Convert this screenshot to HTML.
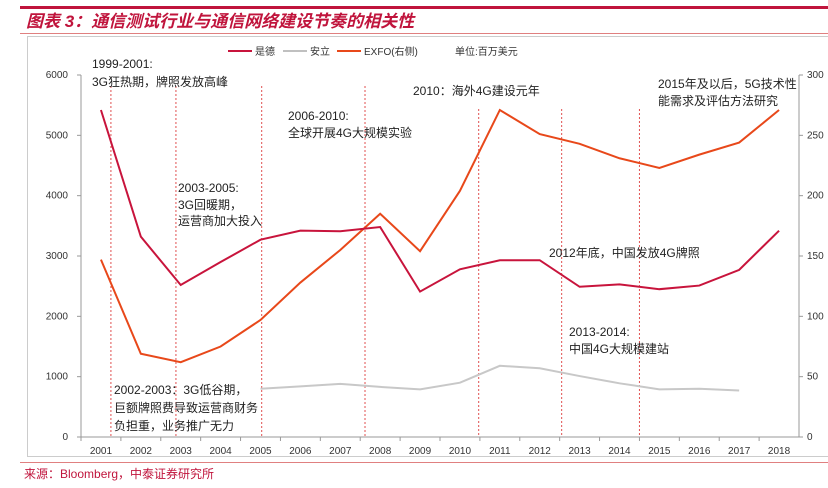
<!DOCTYPE html>
<html><head><meta charset="utf-8">
<style>
body{margin:0;width:828px;height:483px;background:#fff;overflow:hidden;font-family:"Liberation Sans","Noto Sans CJK SC",sans-serif}
svg text{font-family:"Liberation Sans","Noto Sans CJK SC",sans-serif}
</style></head>
<body>
<svg width="828" height="483">
<rect x="20" y="6" width="808" height="3" fill="#C0143C"/>
<text x="26" y="27" font-size="17" font-style="italic" font-weight="bold" fill="#C0143C">图表 3：通信测试行业与通信网络建设节奏的相关性</text>
<rect x="20" y="33" width="808" height="1" fill="#E08080"/>
<rect x="27.5" y="36.5" width="810" height="420" fill="none" stroke="#ccc"/>
<rect x="20" y="462" width="808" height="1" fill="#E08080"/>
<text x="24" y="478" font-size="12" fill="#C0143C">来源：Bloomberg，中泰证券研究所</text>
<g id="legend" font-size="10" fill="#333">
<line x1="228" y1="51" x2="252" y2="51" stroke="#C8143C" stroke-width="2"/>
<text x="255" y="55">是德</text>
<line x1="283" y1="51" x2="307" y2="51" stroke="#C0C0C0" stroke-width="2"/>
<text x="310" y="55">安立</text>
<line x1="337" y1="51" x2="361" y2="51" stroke="#E8481A" stroke-width="2"/>
<text x="364" y="55">EXFO(右侧)</text>
<text x="455" y="55">单位:百万美元</text>
</g>
<g id="axes"></g>
<g id="marks"></g>
<g font-size="12" fill="#222">
<text x="92" y="68">1999-2001:</text>
<text x="92" y="86">3G狂热期，牌照发放高峰</text>
<text x="288" y="120">2006-2010:</text>
<text x="288" y="137">全球开展4G大规模实验</text>
<text x="413" y="95">2010：海外4G建设元年</text>
<text x="658" y="88">2015年及以后，5G技术性</text>
<text x="658" y="105">能需求及评估方法研究</text>
<text x="178" y="192">2003-2005:</text>
<text x="178" y="209">3G回暖期，</text>
<text x="178" y="225">运营商加大投入</text>
<text x="549" y="257">2012年底，中国发放4G牌照</text>
<text x="569" y="336">2013-2014:</text>
<text x="569" y="353">中国4G大规模建站</text>
<text x="114" y="394">2002-2003：3G低谷期，</text>
<text x="114" y="412">巨额牌照费导致运营商财务</text>
<text x="114" y="430">负担重，业务推广无力</text>
</g>
</svg>
<script>
const years=["2001","2002","2003","2004","2005","2006","2007","2008","2009","2010","2011","2012","2013","2014","2015","2016","2017","2018"];
const keysight=[5420,3320,2520,2900,3270,3420,3410,3480,2410,2780,2930,2930,2490,2530,2450,2510,2770,3420];
const anritsuYears=["2005","2006","2007","2008","2009","2010","2011","2012","2013","2014","2015","2016","2017"];
const anritsu=[800,840,880,830,790,900,1180,1140,1010,890,790,800,770];
const exfo=[147,69,62,75,97,128,155,185,154,204,271,251,243,231,223,234,244,271];
const leftTicks=[0,1000,2000,3000,4000,5000,6000];
const rightTicks=[0,50,100,150,200,250,300];
const markerYears=[2001.25,2002.88,2005.03,2007.62,2010.47,2012.55,2014.5];
const NS="http://www.w3.org/2000/svg";
const X0=81,X1=799,Y0=437,Y1=75;
const step=(X1-X0)/years.length;
function xi(i){return X0+step*(i+0.5);}
function xy(y){return X0+step*(y-2001+0.5);}
function yl(v){return Y0-(v/6000)*(Y0-Y1);}
function yr(v){return Y0-(v/300)*(Y0-Y1);}
function mk(tag,attrs,parent){const e=document.createElementNS(NS,tag);for(const k in attrs)e.setAttribute(k,attrs[k]);parent.appendChild(e);return e;}
const ax=document.getElementById('axes'),mg=document.getElementById('marks');
let e=mk('line',{x1:X0,y1:Y1,x2:X0,y2:Y0,stroke:'#999'},ax);


e=mk('line',{x1:X1,y1:Y1,x2:X1,y2:Y0,stroke:'#999'},ax);


e=mk('line',{x1:X0,y1:Y0,x2:X1,y2:Y0,stroke:'#999'},ax);


leftTicks.forEach(v=>{mk('line',{x1:X0-4,x2:X0,y1:yl(v),y2:yl(v),stroke:'#999'},ax);
const t=mk('text',{x:X0-13,y:yl(v)+3,'text-anchor':'end','font-size':10,fill:'#333'},ax);t.textContent=v;

});
rightTicks.forEach(v=>{mk('line',{x1:X1,x2:X1+4,y1:yr(v),y2:yr(v),stroke:'#999'},ax);
const t=mk('text',{x:X1+8,y:yr(v)+3,'font-size':10,fill:'#333'},ax);t.textContent=v;

});
years.forEach((y,i)=>{mk('line',{x1:X0+step*i,x2:X0+step*i,y1:Y0,y2:Y0+4,stroke:'#999'},ax);
const t=mk('text',{x:xi(i),y:Y0+17,'text-anchor':'middle','font-size':10,fill:'#333'},ax);t.textContent=y;

});
markerYears.forEach(m=>{const l=mk('line',{x1:xy(m),x2:xy(m),y1:m<2010?86:109,y2:Y0,stroke:'#E05050','stroke-width':1,'stroke-dasharray':'2,2'},mg);

});
let p=mk('polyline',{points:anritsu.map((v,i)=>xy(+anritsuYears[i])+','+yl(v)).join(' '),fill:'none',stroke:'#C8C8C8','stroke-width':2},mg);


p=mk('polyline',{points:exfo.map((v,i)=>xi(i)+','+yr(v)).join(' '),fill:'none',stroke:'#E8481A','stroke-width':2},mg);


p=mk('polyline',{points:keysight.map((v,i)=>xi(i)+','+yl(v)).join(' '),fill:'none',stroke:'#C8143C','stroke-width':2},mg);


</script>
</body></html>
